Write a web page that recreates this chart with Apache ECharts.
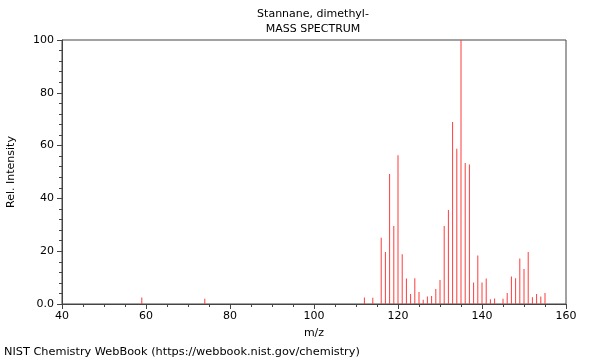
<!DOCTYPE html>
<html><head><meta charset="utf-8">
<script src="https://cdn.jsdelivr.net/npm/echarts@6/dist/echarts.min.js"></script>
<style>html,body{margin:0;padding:0;background:#fff}#c{width:600px;height:360px}</style>
</head><body><div id="c"></div>
<script>
const titleLine1 = 'Stannane, dimethyl-';
const titleLine2 = 'MASS SPECTRUM';
const footer = 'NIST Chemistry WebBook (https://webbook.nist.gov/chemistry)';
const mz = [59, 74, 112, 114, 116, 117, 118, 119, 120, 121, 122, 123, 124, 125, 126, 127, 128, 129, 130, 131, 132, 133, 134, 135, 136, 137, 138, 139, 140, 141, 142, 143, 145, 146, 147, 148, 149, 150, 151, 152, 153, 154, 155];
const intensity = [2.5, 2.0, 2.5, 2.4, 25.1, 19.7, 49.2, 29.5, 56.3, 18.8, 9.7, 3.8, 9.8, 4.5, 1.6, 2.8, 3.0, 5.7, 9.1, 29.5, 35.6, 68.9, 58.8, 100, 53.4, 52.8, 8.1, 18.4, 8.1, 9.7, 1.8, 2.1, 2.0, 4.2, 10.4, 9.8, 17.2, 13.3, 19.7, 2.6, 3.8, 2.8, 4.2];
const xTicks = [40, 60, 80, 100, 120, 140, 160];
const yTicks = [0, 20, 40, 60, 80, 100];

const font = 'DejaVu Sans';
const axisColor = '#444';
const chart = echarts.init(document.getElementById('c'));
chart.setOption({
  animation: false,
  textStyle: {fontFamily: font},
  title: [
    {text: titleLine1, left: 313, top: 9, padding: 0, textAlign: 'center', textStyle: {fontFamily: font, fontSize: 11, fontWeight: 'normal', color: '#000'}},
    {text: titleLine2, left: 313, top: 24, padding: 0, textAlign: 'center', textStyle: {fontFamily: font, fontSize: 11, fontWeight: 'normal', color: '#000'}},
    {text: footer, left: 4, top: 347, padding: 0, textStyle: {fontFamily: font, fontSize: 11.3, fontWeight: 'normal', color: '#000'}}
  ],
  grid: {left: 62, right: 34, top: 40, bottom: 56, containLabel: false, outerBoundsMode: 'none', show: true, borderColor: axisColor, borderWidth: 1, backgroundColor: 'transparent'},
  xAxis: {
    type: 'value', min: xTicks[0], max: xTicks[xTicks.length - 1], interval: 20,
    name: 'm/z', nameLocation: 'middle', nameGap: 24,
    nameTextStyle: {fontFamily: font, fontSize: 11, color: '#000'},
    axisLine: {show: true, lineStyle: {color: axisColor, width: 1}},
    axisTick: {show: true, length: 5, lineStyle: {color: axisColor}},
    minorTick: {show: true, splitNumber: 4, length: 3, lineStyle: {color: axisColor}},
    axisLabel: {fontFamily: font, fontSize: 11, color: '#000', margin: 7},
    splitLine: {show: false}
  },
  yAxis: {
    type: 'value', min: yTicks[0], max: yTicks[yTicks.length - 1], interval: 20,
    name: 'Rel. Intensity', nameLocation: 'middle', nameGap: 45, nameRotate: 90,
    nameTextStyle: {fontFamily: font, fontSize: 11, color: '#000'},
    axisLine: {show: true, lineStyle: {color: axisColor, width: 1}},
    axisTick: {show: true, length: 5, lineStyle: {color: axisColor}},
    minorTick: {show: true, splitNumber: 5, length: 3, lineStyle: {color: axisColor}},
    axisLabel: {fontFamily: font, fontSize: 11, color: '#000', margin: 8, formatter: v => v === 0 ? '0.0' : String(v)},
    splitLine: {show: false}
  },
  series: [{
    type: 'bar',
    data: mz.map((m, i) => [m, intensity[i]]),
    barWidth: 1,
    itemStyle: {color: '#ff3c3c'},
    silent: true
  }]
});
</script></body></html>
